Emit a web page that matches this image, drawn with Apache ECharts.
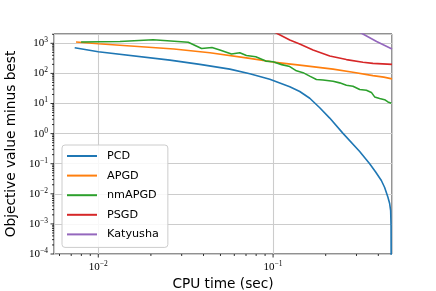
<!DOCTYPE html>
<html><head><meta charset="utf-8">
<script src="https://cdn.jsdelivr.net/npm/echarts@6/dist/echarts.min.js"></script>
<style>html,body{margin:0;padding:0;background:#fff}#c{width:436px;height:291px}</style>
</head><body><div id="c"></div>
<script>
// ---- data ----
const seriesNames = ['PCD', 'APGD', 'nmAPGD', 'PSGD', 'Katyusha'];
const pcdT = [0.00733, 0.01, 0.02569, 0.03813, 0.05655, 0.0736, 0.09574, 0.1246, 0.1421, 0.1621, 0.1849, 0.2109, 0.2512, 0.3129, 0.3569, 0.3862, 0.4163, 0.4348, 0.454, 0.4644, 0.4706, 0.4731, 0.4748];
const pcdV = [713, 525, 277, 199.5, 139, 97, 63.6, 36.3, 25.1, 15.0, 7.24, 3.28, 1.02, 0.255, 0.1, 0.0533, 0.0277, 0.0162, 0.0077, 0.00475, 0.00277, 0.000877, 0.000001];
const apgdT = [0.00746, 0.01, 0.0271, 0.0435, 0.0736, 0.1, 0.142, 0.2204, 0.2864, 0.3725, 0.43, 0.479];
const apgdV = [1104, 970, 646, 486, 316, 238, 189, 139, 110, 84.5, 75.3, 66];
const nmapgdT = [0.00797, 0.0133, 0.0206, 0.0327, 0.039, 0.0447, 0.0496, 0.0578, 0.0645, 0.0704, 0.0796, 0.0908, 0.1, 0.112, 0.1246, 0.136, 0.1484, 0.162, 0.177, 0.193, 0.2204, 0.2405, 0.2627, 0.2864, 0.313, 0.342, 0.365, 0.381, 0.407, 0.4345, 0.454, 0.475];
const nmapgdV = [1104, 1148, 1318, 1080, 671, 724, 598, 440, 486, 392, 357, 257, 244, 196, 169, 122, 106, 81.3, 63, 60.7, 54.6, 48.6, 40.7, 37.7, 29.3, 27.7, 23.4, 16.6, 14.7, 13.4, 11.3, 10.2];
const psgdT = [0.0897, 0.1069, 0.1246, 0.142, 0.1693, 0.211, 0.2627, 0.3266, 0.3725, 0.479];
const psgdV = [3490, 2042, 1290, 948, 598, 377, 288, 234, 215, 200];
const katT = [0.274, 0.3266, 0.391, 0.479];
const katV = [3490, 2042, 1148, 646];
const xRange = [0.00558, 0.479];
const yRange = [0.0001, 2040];
const xMajorTicks = [0.01, 0.1];
const xMinorTicks = [0.006, 0.007, 0.008, 0.009, 0.02, 0.03, 0.04, 0.05, 0.06, 0.07, 0.08, 0.09, 0.2, 0.3, 0.4];
const yMajorTicks = [1e-4, 1e-3, 1e-2, 1e-1, 1, 10, 100, 1000];
const yMinorTicks = [];
for (let k = -4; k <= 3; k++) for (let m = 2; m <= 9; m++) { const v = m * Math.pow(10, k); if (v <= yRange[1]) yMinorTicks.push(v); }

// ---- chart ----
const colors = ['#1f77b4', '#ff7f0e', '#2ca02c', '#d62728', '#9467bd'];
const allT = [pcdT, apgdT, nmapgdT, psgdT, katT];
const allV = [pcdV, apgdV, nmapgdV, psgdV, katV];
const chart = echarts.init(document.getElementById('c'), null, {renderer: 'canvas'});
const supLabel = v => { const e = Math.round(Math.log10(v)); return '{b|10}{s|' + (e < 0 ? '\u2212' + (-e) : e) + '}'; };
const richStyle = {
  b: {fontFamily: 'Liberation Serif', fontSize: 11, color: '#000'},
  s: {fontFamily: 'Liberation Serif', fontSize: 7.5, color: '#000', padding: [0, 0, 6, 0]}
};
function tickSeries(values, axis, len) {
  return {
    type: 'custom', silent: true, z: 5,
    data: values.map(v => axis === 'x' ? [v, yRange[0]] : [xRange[0], v]),
    renderItem: (params, api) => {
      const p = api.coord([api.value(0), api.value(1)]);
      const shape = axis === 'x' ? {x1: p[0], y1: p[1], x2: p[0], y2: p[1] + len} : {x1: p[0], y1: p[1], x2: p[0] - len, y2: p[1]};
      return {type: 'line', shape: shape, style: {stroke: '#000', lineWidth: 0.8}};
    }
  };
}
const lineSeries = seriesNames.map((n, i) => ({
  name: n, type: 'line', showSymbol: false, symbol: 'none', clip: true, z: 3,
  lineStyle: {color: colors[i], width: 1.6}, itemStyle: {color: colors[i]},
  data: allT[i].map((t, j) => [t, allV[i][j]])
}));
chart.setOption({
  animation: false,
  grid: {left: 54, top: 34, width: 338, height: 220, containLabel: false, outerBoundsMode: 'none',
         show: true, borderColor: '#222', borderWidth: 1, backgroundColor: 'transparent'},
  legend: {
    data: seriesNames, orient: 'vertical', left: 62, top: 145,
    icon: 'rect', itemWidth: 30, itemHeight: 2, itemGap: 5.6,
    padding: [4, 9, 6, 5],
    backgroundColor: 'rgba(255,255,255,0.85)', borderColor: '#cccccc', borderWidth: 1, borderRadius: 3,
    textStyle: {fontFamily: 'DejaVu Sans', fontSize: 11.2, color: '#000', lineHeight: 14, padding: [0, 0, 0, 5]}
  },
  xAxis: {
    type: 'log', logBase: 10, min: xRange[0], max: xRange[1],
    name: 'CPU time (sec)', nameLocation: 'middle', nameGap: 21,
    nameTextStyle: {fontFamily: 'DejaVu Sans', fontSize: 13.7, color: '#000'},
    axisLine: {show: false}, axisTick: {show: false},
    axisLabel: {margin: 6, showMinLabel: false, showMaxLabel: false, formatter: supLabel, rich: richStyle},
    splitLine: {show: true, lineStyle: {color: '#cccccc', width: 1.1}}
  },
  yAxis: {
    type: 'log', logBase: 10, min: yRange[0], max: yRange[1],
    name: 'Objective value minus best', nameLocation: 'middle', nameGap: 30,
    nameTextStyle: {fontFamily: 'DejaVu Sans', fontSize: 13.7, color: '#000'},
    axisLine: {show: false}, axisTick: {show: false},
    axisLabel: {margin: 6, showMinLabel: true, showMaxLabel: false, formatter: supLabel, rich: richStyle},
    splitLine: {show: true, lineStyle: {color: '#cccccc', width: 1.1}}
  },
  series: lineSeries.concat([
    tickSeries(xMajorTicks, 'x', 3.5), tickSeries(xMinorTicks, 'x', 2),
    tickSeries(yMajorTicks, 'y', 3.5), tickSeries(yMinorTicks, 'y', 2)
  ])
});
</script></body></html>
